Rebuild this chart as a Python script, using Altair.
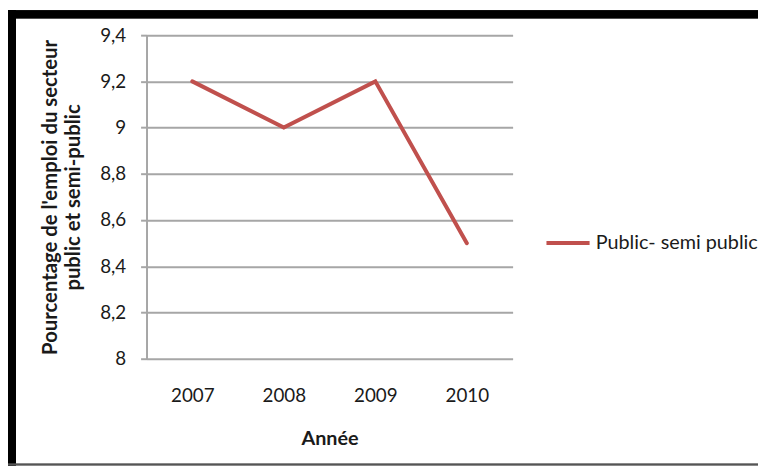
import altair as alt
import pandas as pd

years = ["2007", "2008", "2009", "2010"]
values = [9.2, 9.0, 9.2, 8.5]
series_name = "Public- semi public"
y_ticks = [8, 8.2, 8.4, 8.6, 8.8, 9, 9.2, 9.4]

df = pd.DataFrame({"Année": years, "val": values, "serie": [series_name] * len(years)})

FONT = "Lato"
TXT = "#1a1a1a"
GRID = "#a6a6a6"

line = alt.Chart(df).mark_line(strokeWidth=4, strokeCap="round", strokeJoin="miter").encode(
    x=alt.X("Année:O", scale=alt.Scale(type="point", padding=0.5),
            axis=alt.Axis(title="Année", labelAngle=0, ticks=False, domain=False, grid=False,
                          labelPadding=28, titlePadding=24, labelFontSize=19, titleFontSize=20,
                          titleFontWeight="bold")),
    y=alt.Y("val:Q", scale=alt.Scale(domain=[8, 9.4], nice=False, zero=False),
            axis=alt.Axis(title=["Pourcentage de l'emploi du secteur", "public et semi-public"],
                          values=y_ticks, labelExpr="replace(format(datum.value, '.1~f'), '.', ',')",
                          grid=True, gridColor=GRID, gridWidth=2, domainColor=GRID, domainWidth=2,
                          tickColor=GRID, tickWidth=2, tickSize=6, labelPadding=15,
                          labelFontSize=19, titleFontSize=20.5, titleFontWeight="bold",
                          titleLineHeight=24, titlePadding=16)),
    color=alt.Color("serie:N", scale=alt.Scale(domain=[series_name], range=["#C0504D"]),
                    legend=alt.Legend(title=None, orient="none", legendX=402, legendY=186,
                                      symbolType="stroke", symbolSize=1900, symbolStrokeWidth=4,
                                      labelFontSize=20, labelOffset=4, labelLimit=400,
                                      labelFont=FONT, labelColor=TXT)),
)

# outer frame of the figure
frame_top = alt.Chart(df).mark_rule(color="black", strokeWidth=8).encode(
    x=alt.value(-140), x2=alt.value(618), y=alt.value(-21))
frame_left = alt.Chart(df).mark_rule(color="black", strokeWidth=8).encode(
    x=alt.value(-136), y=alt.value(-25), y2=alt.value(435))
frame_bottom = alt.Chart(df).mark_rule(color="#555555", strokeWidth=1.5).encode(
    x=alt.value(-140), x2=alt.value(618), y=alt.value(434))

chart = alt.layer(line, frame_top, frame_left, frame_bottom).properties(
    width=370, height=327,
    autosize=alt.AutoSizeParams(type="none"),
    padding={"left": 140, "top": 25, "right": 248, "bottom": 108},
    background="white",
).configure_view(stroke=None).configure_axis(
    labelFont=FONT, titleFont=FONT, labelColor=TXT, titleColor=TXT
)

chart.save("out.html", embed_options={"renderer": "svg", "actions": False})
